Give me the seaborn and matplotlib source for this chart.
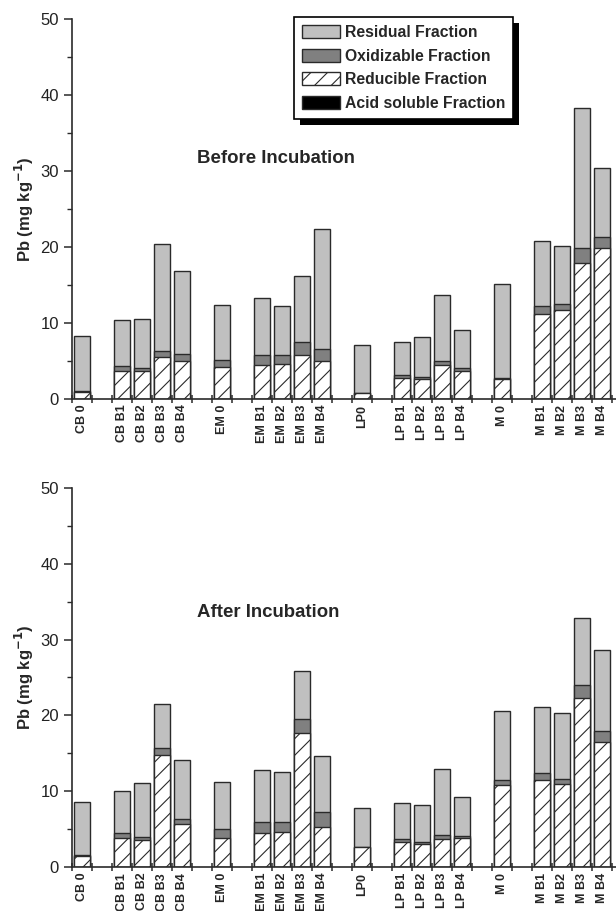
import numpy as np
import pandas as pd
import matplotlib
matplotlib.use("Agg")
import matplotlib.pyplot as plt
from matplotlib.patches import Patch, Rectangle
from matplotlib.ticker import MultipleLocator
import seaborn as sns

sns.set_style("ticks")
plt.rcParams['font.family'] = ['Liberation Sans', 'DejaVu Sans']
plt.rcParams['hatch.linewidth'] = 0.8

# sample names, in plotting order (control + 4 treatments per soil)
labels = ["CB 0", "CB B1", "CB B2", "CB B3", "CB B4",
          "EM 0", "EM B1", "EM B2", "EM B3", "EM B4",
          "LP0", "LP B1", "LP B2", "LP B3", "LP B4",
          "M 0", "M B1", "M B2", "M B3", "M B4"]

# fractions, mg/kg - before incubation
before_acid = [0.05] * 20
before_red = [0.9, 3.7, 3.7, 5.5, 5.0, 4.1, 4.4, 4.5, 5.7, 5.0,
              0.75, 2.7, 2.6, 4.4, 3.7, 2.6, 11.1, 11.7, 17.9, 19.8]
before_oxi = [0.1, 0.55, 0.3, 0.8, 0.9, 1.0, 1.4, 1.25, 1.8, 1.5,
              0.05, 0.4, 0.25, 0.5, 0.3, 0.05, 1.1, 0.8, 1.9, 1.5]
before_res = [7.2, 6.05, 6.5, 14.1, 10.85, 7.2, 7.5, 6.4, 8.7, 15.8,
              6.3, 4.3, 5.25, 8.7, 5.0, 12.45, 8.6, 7.6, 18.4, 9.0]

# fractions, mg/kg - after incubation
after_acid = [0.05] * 20
after_red = [1.5, 3.8, 3.5, 14.7, 5.6, 3.8, 4.5, 4.55, 17.7, 5.3,
             2.6, 3.25, 2.95, 3.7, 3.8, 10.75, 11.4, 10.9, 22.25, 16.45]
after_oxi = [0.05, 0.6, 0.45, 1.0, 0.75, 1.15, 1.4, 1.35, 1.8, 1.9,
             0.05, 0.45, 0.35, 0.5, 0.25, 0.65, 1.0, 0.7, 1.65, 1.45]
after_res = [7.0, 5.55, 7.05, 5.8, 7.7, 6.25, 6.9, 6.55, 6.3, 7.4,
             5.05, 4.7, 4.9, 8.65, 5.15, 9.1, 8.6, 8.7, 8.85, 10.7]

# slot layout: control, gap, B1-B4, gap  for each soil
pos = []
for g in range(4):
    pos += [g * 7] + [g * 7 + 2 + k for k in range(4)]

c_res = "#c0c0c0"
c_oxi = "#808080"
edge = "#2a2a2a"


def draw_panel(ax, acid, red, oxi, res, title, ty):
    acid = np.array(acid)
    top_red = acid + np.array(red)
    top_oxi = top_red + np.array(oxi)
    top_res = top_oxi + np.array(res)
    layers = [(top_res, c_res, None), (top_oxi, c_oxi, None),
              (top_red, "white", "//"), (acid, "black", None)]
    for vals, col, hatch in layers:
        df = pd.DataFrame({"pos": pos, "val": vals})
        sns.barplot(data=df, x="pos", y="val", native_scale=True, orient="x",
                    width=0.83, color=col, saturation=1, edgecolor=edge,
                    linewidth=1.0, hatch=hatch, errorbar=None, ax=ax)
    ax.set_xlim(-0.5, 26.7)
    ax.set_ylim(0, 50)
    ax.yaxis.set_major_locator(MultipleLocator(10))
    ax.yaxis.set_minor_locator(MultipleLocator(5))
    ax.set_xticks(pos)
    ax.set_xticklabels(labels, rotation=90, fontsize=9, fontweight="bold")
    ax.set_xticks(np.arange(-0.5, 27, 1), minor=True)
    ax.tick_params(axis="x", which="major", length=0, pad=4)
    ax.tick_params(axis="x", which="minor", direction="inout", length=6,
                   width=1.1, color=edge)
    ax.tick_params(axis="y", which="major", length=6, width=1.1,
                   labelsize=12, color=edge, labelcolor="#222222")
    ax.tick_params(axis="y", which="minor", length=3.5, width=1.0, color=edge)
    ax.set_xlabel("")
    ax.set_ylabel(r"Pb (mg kg$^{\mathbf{-1}}$)", fontsize=12, fontweight="bold")
    ax.yaxis.set_label_coords(-0.066, 0.5)
    ax.text(5.75, ty, title, ha="left", va="center", fontsize=13.4,
            fontweight="bold")
    sns.despine(ax=ax)
    for s in ("left", "bottom"):
        ax.spines[s].set_color(edge)
        ax.spines[s].set_linewidth(1.2)


fig = plt.figure(figsize=(6.16, 9.11), dpi=100)
ax1 = fig.add_axes([0.117, 0.562, 0.883, 0.4171])
ax2 = fig.add_axes([0.117, 0.048, 0.883, 0.4167])

draw_panel(ax1, before_acid, before_red, before_oxi, before_res,
           "Before Incubation", 31.7)
draw_panel(ax2, after_acid, after_red, after_oxi, after_res,
           "After Incubation", 33.5)

handles = [Patch(facecolor=c_res, edgecolor=edge, label="Residual Fraction"),
           Patch(facecolor=c_oxi, edgecolor=edge, label="Oxidizable Fraction"),
           Patch(facecolor="white", edgecolor=edge, hatch="//",
                 label="Reducible Fraction"),
           Patch(facecolor="black", edgecolor=edge,
                 label="Acid soluble Fraction")]
leg = ax1.legend(handles=handles, loc="upper left",
                 bbox_to_anchor=(0.408, 1.005), borderaxespad=0,
                 prop={"size": 11.3, "weight": "bold"}, handlelength=2.4,
                 handleheight=0.9, labelspacing=0.55, handletextpad=0.35,
                 borderpad=0.5, fancybox=False, framealpha=1)
leg.get_frame().set_edgecolor("black")
leg.get_frame().set_linewidth(1.2)

# hard black drop shadow behind the legend box
fig.canvas.draw()
bb = leg.get_window_extent().transformed(fig.transFigure.inverted())
dx, dy = 6 / 616, 6 / 911
ax1.add_patch(Rectangle((bb.x0 + dx, bb.y0 - dy), bb.width, bb.height,
                        facecolor="black", edgecolor="none",
                        transform=fig.transFigure, clip_on=False, zorder=4.9))

fig.savefig("out.png", dpi=100)
